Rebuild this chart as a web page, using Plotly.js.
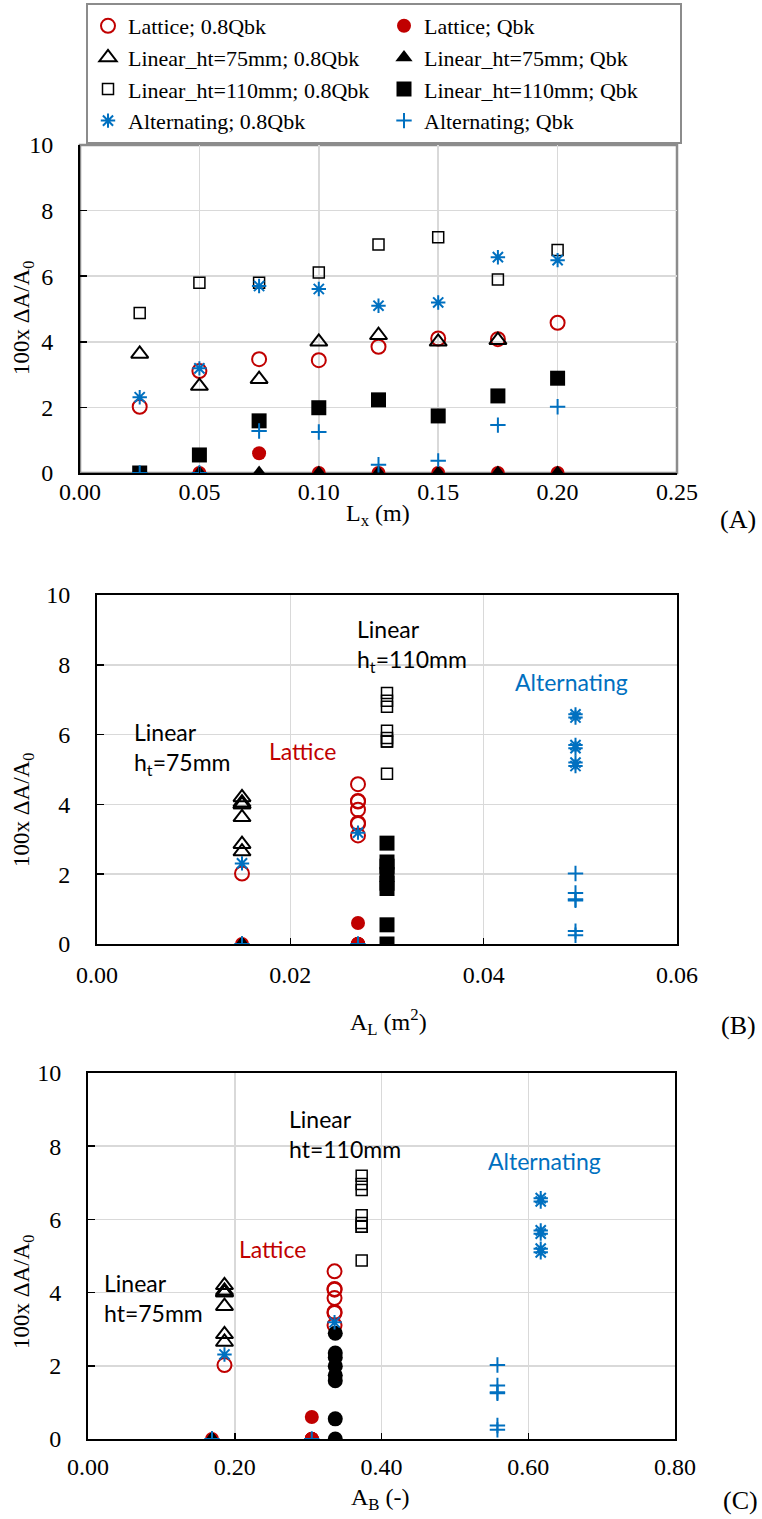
<!DOCTYPE html>
<html><head><meta charset="utf-8">
<script src="https://cdn.plot.ly/plotly-3.0.1.min.js"></script>
<style>html,body{margin:0;padding:0;background:#fff}</style>
</head><body><div id="chart" style="width:762px;height:1519px"></div>
<script>
// ---------- data ----------
const Lx = [0.025, 0.05, 0.075, 0.10, 0.125, 0.15, 0.175, 0.20];
const Lx7 = [0.025, 0.05, 0.075, 0.10, 0.125, 0.15, 0.175];

const lattice08 = [2.02, 3.11, 3.47, 3.44, 3.85, 4.10, 4.08, 4.58];
const latticeQ  = [0, 0, 0.60, 0, 0, 0, 0, 0];
const lin75_08  = [3.63, 2.65, 2.86, 4.00, 4.20, 4.00, 4.05];
const lin75_Q   = [0, 0, 0, 0, 0, 0, 0, 0];
const lin110_08 = [4.88, 5.80, 5.80, 6.11, 6.97, 7.19, 5.90, 6.80];
const lin110_Q  = [0, 0.55, 1.59, 1.99, 2.23, 1.74, 2.35, 2.89];
const alt08     = [2.31, 3.19, 5.70, 5.61, 5.10, 5.20, 6.58, 6.49];
const altQ      = [0, 0, 1.28, 1.25, 0.25, 0.37, 1.46, 2.02];

// A_L (m2) for each point (panel B)
const AL_lattice08 = [0.015, 0.027, 0.027, 0.027, 0.027, 0.027, 0.027, 0.027];
const AL_latticeQ  = [0.015, 0.027, 0.027, 0.027, 0.027, 0.027, 0.027, 0.027];
const AL_lin75_08  = [0.015, 0.015, 0.015, 0.015, 0.015, 0.015, 0.015];
const AL_lin75_Q   = [0.015, 0.015, 0.015, 0.015, 0.015, 0.015, 0.015, 0.015];
const AL_lin110_08 = [0.030, 0.030, 0.030, 0.030, 0.030, 0.030, 0.030, 0.030];
const AL_lin110_Q  = [0.030, 0.030, 0.030, 0.030, 0.030, 0.030, 0.030, 0.030];
const AL_alt08     = [0.015, 0.027, 0.0495, 0.0495, 0.0495, 0.0495, 0.0495, 0.0495];
const AL_altQ      = [0.015, 0.027, 0.0495, 0.0495, 0.0495, 0.0495, 0.0495, 0.0495];

// A_B (-) for each point (panel C)
const AB_lattice08 = [0.186, 0.336, 0.336, 0.336, 0.336, 0.336, 0.336, 0.336];
const AB_latticeQ  = [0.169, 0.305, 0.305, 0.305, 0.305, 0.305, 0.305, 0.305];
const AB_lin75_08  = [0.186, 0.186, 0.186, 0.186, 0.186, 0.186, 0.186];
const AB_lin75_Q   = [0.169, 0.169, 0.169, 0.169, 0.169, 0.169, 0.169, 0.169];
const AB_lin110_08 = [0.373, 0.373, 0.373, 0.373, 0.373, 0.373, 0.373, 0.373];
const AB_lin110_Q  = [0.337, 0.337, 0.337, 0.337, 0.337, 0.337, 0.337, 0.337];
const AB_alt08     = [0.186, 0.336, 0.617, 0.617, 0.617, 0.617, 0.617, 0.617];
const AB_altQ      = [0.169, 0.305, 0.558, 0.558, 0.558, 0.558, 0.558, 0.558];

const seriesNames = ['Lattice; 0.8Qbk', 'Lattice; Qbk',
  'Linear_ht=75mm; 0.8Qbk', 'Linear_ht=75mm; Qbk',
  'Linear_ht=110mm; 0.8Qbk', 'Linear_ht=110mm; Qbk',
  'Alternating; 0.8Qbk', 'Alternating; Qbk'];

// ---------- styles ----------
const RED = '#C00000', BLUE = '#0070C0', BLK = '#000000';
const sty = [
  {symbol: 'circle-open', size: 14, color: RED, line: {color: RED, width: 2}},
  {symbol: 'circle', size: 14, color: RED, line: {color: RED, width: 0}},
  {symbol: 'triangle-up-open', size: 15, color: BLK, line: {color: BLK, width: 2}},
  {symbol: 'triangle-up', size: 15, color: BLK, line: {color: BLK, width: 0}},
  {symbol: 'square-open', size: 11, color: BLK, line: {color: BLK, width: 1.5}},
  {symbol: 'square', size: 15, color: BLK, line: {color: BLK, width: 0}},
  {symbol: 'asterisk-open', size: 12, color: BLUE, line: {color: BLUE, width: 2}},
  {symbol: 'cross-thin-open', size: 11, color: BLUE, line: {color: BLUE, width: 2}}
];

const yA = [lattice08, latticeQ, lin75_08, lin75_Q, lin110_08, lin110_Q, alt08, altQ];
const xA = [Lx, Lx, Lx7, Lx, Lx, Lx, Lx, Lx];
const xB = [AL_lattice08, AL_latticeQ, AL_lin75_08, AL_lin75_Q, AL_lin110_08, AL_lin110_Q, AL_alt08, AL_altQ];
const xC = [AB_lattice08, AB_latticeQ, AB_lin75_08, AB_lin75_Q, AB_lin110_08, AB_lin110_Q, AB_alt08, AB_altQ];

const traces = [];
const panels = [[xA, 'x', 'y', true], [xB, 'x2', 'y2', false], [xC, 'x3', 'y3', false]];
panels.forEach(([xs, xa, ya, leg], p) => {
  for (let i = 0; i < 8; i++) {
    const m = Object.assign({}, sty[i]);
    if (p === 2 && i === 5) m.symbol = 'circle';   // panel C uses filled circles
    traces.push({
      type: 'scatter', mode: 'markers', name: seriesNames[i],
      x: xs[i], y: yA[i], xaxis: xa, yaxis: ya,
      marker: m, showlegend: leg, hoverinfo: 'x+y'
    });
  }
});

// ---------- layout ----------
const W = 762, H = 1519;
const fx = v => v / W, fy = v => 1 - v / H;
const SERIF = '"Liberation Serif"';
const SANS = 'Lato';
const tickFont = {family: SERIF, size: 24, color: '#000'};

function xaxisDef(dom, range, dtick, boxed, standoff) {
  return {
    domain: [fx(dom[0]), fx(dom[1])], range: range, dtick: dtick, tick0: 0,
    tickformat: '.2f', showgrid: true, gridcolor: '#d9d9d9', gridwidth: 1.5,
    zeroline: false, showline: true, linecolor: '#000', linewidth: 2,
    mirror: boxed, ticks: 'inside', ticklen: 6, tickcolor: '#000', tickwidth: 1.5,
    tickfont: tickFont, ticklabelstandoff: standoff, fixedrange: true
  };
}
function yaxisDef(dom, boxed) {
  return {
    domain: [fy(dom[1]), fy(dom[0])], range: [0, 10], dtick: 2, tick0: 0,
    showgrid: true, gridcolor: '#d9d9d9', gridwidth: 1.5,
    zeroline: false, showline: true, linecolor: '#000', linewidth: 2,
    mirror: boxed, ticks: 'inside', ticklen: 7, tickcolor: '#000', tickwidth: 1.5,
    tickfont: tickFont, ticklabelstandoff: 20, fixedrange: true
  };
}

const A = {x: [80, 677], y: [145, 473]};
const B = {x: [97, 677], y: [595, 944]};
const C = {x: [88, 675], y: [1073, 1439]};

const ytitle = (yc) => ({
  xref: 'paper', yref: 'paper', x: fx(23), y: fy(yc), text: '100x ΔA/A<sub>0</sub>',
  textangle: -90, showarrow: false, xanchor: 'center', yanchor: 'middle',
  font: {family: SERIF, size: 23, color: '#000'}
});
const xtitle = (t, xc, yc) => ({
  xref: 'paper', yref: 'paper', x: fx(xc), y: fy(yc), text: t, showarrow: false,
  xanchor: 'center', yanchor: 'middle', font: {family: SERIF, size: 24, color: '#000'}
});
const panelLabel = (t, xc, yc) => ({
  xref: 'paper', yref: 'paper', x: fx(xc), y: fy(yc), text: t, showarrow: false,
  xanchor: 'center', yanchor: 'middle', font: {family: SERIF, size: 26, color: '#000'}
});
const note = (xa, ya, x, y, t, col, anchor) => ({
  xref: xa, yref: ya, x: x, y: y, text: t, showarrow: false, xanchor: anchor,
  yanchor: 'middle', align: 'left', font: {family: SANS, size: 23, color: col}
});

const layout = {
  width: W, height: H, margin: {l: 0, r: 0, t: 0, b: 0},
  paper_bgcolor: '#fff', plot_bgcolor: '#fff',
  showlegend: true,
  legend: {
    x: fx(86), y: fy(3), xanchor: 'left', yanchor: 'top',
    orientation: 'h', entrywidth: 251, entrywidthmode: 'pixels', itemwidth: 30,
    bordercolor: '#8c8c8c', borderwidth: 2, bgcolor: '#fff',
    font: {family: SERIF, size: 22, color: '#000'}, traceorder: 'normal'
  },
  xaxis: xaxisDef(A.x, [0, 0.25], 0.05, false, -4),
  yaxis: Object.assign(yaxisDef(A.y, false), {anchor: 'x'}),
  xaxis2: Object.assign(xaxisDef(B.x, [0, 0.06], 0.02, true, 8), {anchor: 'y2'}),
  yaxis2: Object.assign(yaxisDef(B.y, true), {anchor: 'x2'}),
  xaxis3: Object.assign(xaxisDef(C.x, [0, 0.8], 0.2, true, 5), {anchor: 'y3'}),
  yaxis3: Object.assign(yaxisDef(C.y, true), {anchor: 'x3'}),
  shapes: [{
    type: 'rect', xref: 'paper', yref: 'paper', layer: 'below',
    x0: fx(A.x[0]), x1: fx(A.x[1]), y0: fy(A.y[1]), y1: fy(A.y[0]),
    line: {color: '#8c8c8c', width: 2.5}, fillcolor: 'rgba(0,0,0,0)'
  }],
  annotations: [
    ytitle(318), ytitle(810), ytitle(1292),
    xtitle('L<sub>x</sub> (m)', 378, 515),
    xtitle('A<sub>L</sub> (m<sup>2</sup>)', 388, 1022),
    xtitle('A<sub>B</sub> (-)', 380, 1499),
    panelLabel('(A)', 738, 519), panelLabel('(B)', 738, 1025), panelLabel('(C)', 740, 1500),
    note('x2', 'y2', 0.0267, 8.54, 'Linear<br>h<sub>t</sub>=110mm', BLK, 'left'),
    note('x2', 'y2', 0.0491, 7.51, 'Alternating', BLUE, 'center'),
    note('x2', 'y2', 0.0213, 5.53, 'Lattice', RED, 'center'),
    note('x2', 'y2', 0.0036, 5.60, 'Linear<br>h<sub>t</sub>=75mm', BLK, 'left'),
    note('x3', 'y3', 0.2717, 8.32, 'Linear<br>ht=110mm', BLK, 'left'),
    note('x3', 'y3', 0.6225, 7.60, 'Alternating', BLUE, 'center'),
    note('x3', 'y3', 0.2512, 5.19, 'Lattice', RED, 'center'),
    note('x3', 'y3', 0.0191, 3.84, 'Linear<br>ht=75mm', BLK, 'left')
  ]
};

Plotly.newPlot('chart', traces, layout, {displayModeBar: false, staticPlot: true});
</script></body></html>
